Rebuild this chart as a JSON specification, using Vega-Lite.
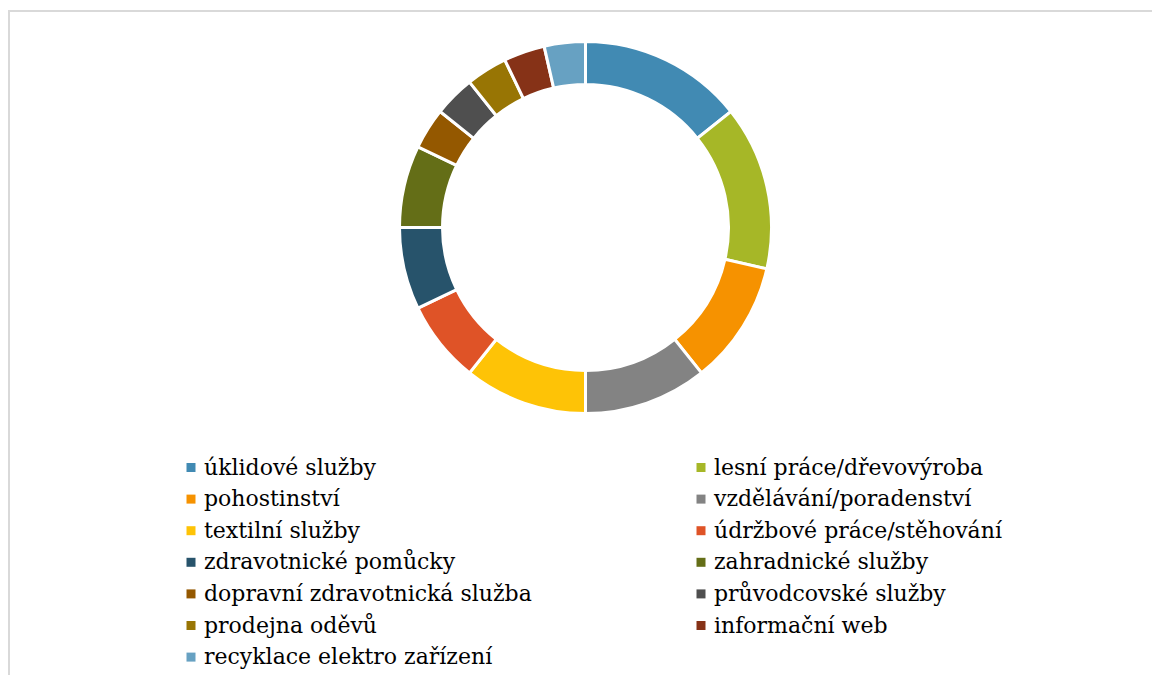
{
  "$schema": "https://vega.github.io/schema/vega-lite/v6.json",
  "width": 1148,
  "height": 669,
  "autosize": {"type": "none"},
  "padding": {"left": 9, "top": 11, "right": -5, "bottom": -5},
  "background": "#FFFFFF",
  "view": {"stroke": "#D9D9D9", "strokeWidth": 2},
  "data": {
    "values": [
      {"obor": "úklidové služby", "pocet": 4, "poradi": 1},
      {"obor": "lesní práce/dřevovýroba", "pocet": 4, "poradi": 2},
      {"obor": "pohostinství", "pocet": 3, "poradi": 3},
      {"obor": "vzdělávání/poradenství", "pocet": 3, "poradi": 4},
      {"obor": "textilní služby", "pocet": 3, "poradi": 5},
      {"obor": "údržbové práce/stěhování", "pocet": 2, "poradi": 6},
      {"obor": "zdravotnické pomůcky", "pocet": 2, "poradi": 7},
      {"obor": "zahradnické služby", "pocet": 2, "poradi": 8},
      {"obor": "dopravní zdravotnická služba", "pocet": 1, "poradi": 9},
      {"obor": "průvodcovské služby", "pocet": 1, "poradi": 10},
      {"obor": "prodejna oděvů", "pocet": 1, "poradi": 11},
      {"obor": "informační web", "pocet": 1, "poradi": 12},
      {"obor": "recyklace elektro zařízení", "pocet": 1, "poradi": 13}
    ]
  },
  "mark": {
    "type": "arc",
    "x": 576.5,
    "y": 216.5,
    "innerRadius": 143,
    "outerRadius": 186,
    "stroke": "#FFFFFF",
    "strokeWidth": 3
  },
  "encoding": {
    "theta": {"field": "pocet", "type": "quantitative", "stack": true},
    "order": {"field": "poradi", "type": "quantitative"},
    "color": {
      "field": "obor",
      "type": "nominal",
      "sort": [
        "úklidové služby",
        "lesní práce/dřevovýroba",
        "pohostinství",
        "vzdělávání/poradenství",
        "textilní služby",
        "údržbové práce/stěhování",
        "zdravotnické pomůcky",
        "zahradnické služby",
        "dopravní zdravotnická služba",
        "průvodcovské služby",
        "prodejna oděvů",
        "informační web",
        "recyklace elektro zařízení"
      ],
      "scale": {
        "range": [
          "#418AB3",
          "#A6B727",
          "#F69200",
          "#838383",
          "#FEC306",
          "#DF5327",
          "#27536B",
          "#646E17",
          "#945800",
          "#4F4F4F",
          "#987504",
          "#863217",
          "#67A1C2"
        ]
      },
      "legend": {
        "title": null,
        "orient": "none",
        "direction": "horizontal",
        "legendX": 171,
        "legendY": 445.5,
        "columns": 2,
        "columnPadding": 158,
        "rowPadding": 9.6,
        "symbolType": "square",
        "symbolSize": 81,
        "symbolStrokeWidth": 0,
        "symbolOpacity": 1,
        "labelFont": "DejaVu Serif",
        "labelFontSize": 22,
        "labelColor": "#000000",
        "labelOffset": 2,
        "labelLimit": 0
      }
    }
  }
}
